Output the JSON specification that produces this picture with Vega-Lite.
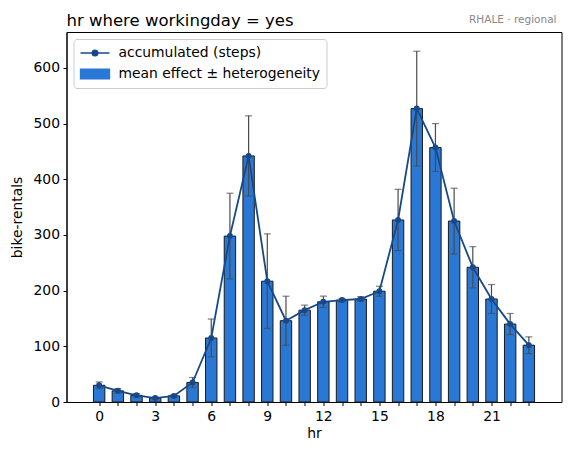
{
  "$schema": "https://vega.github.io/schema/vega-lite/v6.json",
  "width": 495,
  "height": 370,
  "autosize": {"type": "none"},
  "padding": {"left": 66.5, "top": 32, "right": 9.5, "bottom": 53},
  "background": "#ffffff",
  "title": {"text": "hr where workingday = yes", "anchor": "start", "frame": "group", "font": "DejaVu Sans", "fontSize": 16.5, "fontWeight": "normal", "color": "#000000", "baseline": "alphabetic", "offset": 7, "dy": 35},
  "data": {"values": [
    {"hr": 0, "value": 30, "het": 6},
    {"hr": 1, "value": 20, "het": 4},
    {"hr": 2, "value": 12, "het": 3},
    {"hr": 3, "value": 7, "het": 2},
    {"hr": 4, "value": 11, "het": 2},
    {"hr": 5, "value": 35, "het": 9},
    {"hr": 6, "value": 115, "het": 34},
    {"hr": 7, "value": 298, "het": 77},
    {"hr": 8, "value": 442, "het": 72},
    {"hr": 9, "value": 217, "het": 85},
    {"hr": 10, "value": 146, "het": 44},
    {"hr": 11, "value": 165, "het": 9},
    {"hr": 12, "value": 180, "het": 10},
    {"hr": 13, "value": 183, "het": 3},
    {"hr": 14, "value": 185, "het": 4},
    {"hr": 15, "value": 199, "het": 9},
    {"hr": 16, "value": 327, "het": 55},
    {"hr": 17, "value": 527, "het": 103},
    {"hr": 18, "value": 457, "het": 43},
    {"hr": 19, "value": 325, "het": 59},
    {"hr": 20, "value": 242, "het": 37},
    {"hr": 21, "value": 185, "het": 26},
    {"hr": 22, "value": 140, "het": 19},
    {"hr": 23, "value": 102, "het": 15}
  ]},
  "encoding": {
    "x": {"field": "hr", "type": "quantitative", "title": "hr",
          "scale": {"domain": [-1.48, 24.48], "nice": false, "zero": false},
          "axis": {"values": [0,1,2,3,4,5,6,7,8,9,10,11,12,13,14,15,16,17,18,19,20,21,22,23],
                   "labelExpr": "datum.value % 3 === 0 ? datum.label : ''", "labelOverlap": false, "labelFlush": false, "titlePadding": 4}},
    "y": {"field": "value", "type": "quantitative", "title": "bike-rentals",
          "scale": {"domain": [0, 664.6], "nice": false},
          "axis": {"values": [0,100,200,300,400,500,600], "labelOverlap": false, "titlePadding": 8}}
  },
  "layer": [
    {
      "mark": {"type": "bar", "width": 11.4, "stroke": "#1a1a1a", "strokeWidth": 1, "opacity": 1},
      "encoding": {
        "color": {"datum": "mean effect ± heterogeneity", "type": "nominal",
                  "scale": {"domain": ["accumulated (steps)", "mean effect ± heterogeneity"], "range": ["#17498a", "#2a78d6"]},
                  "legend": {"title": null}}
      }
    },
    {
      "mark": {"type": "errorbar", "color": "#4a4a4a", "thickness": 1.2, "ticks": {"size": 7, "color": "#4a4a4a", "thickness": 1.2}},
      "encoding": {
        "yError": {"field": "het"}
      }
    },
    {
      "mark": {"type": "line", "strokeWidth": 1.8},
      "encoding": {
        "color": {"datum": "accumulated (steps)", "type": "nominal", "legend": {"title": null}}
      }
    },
    {
      "mark": {"type": "point", "filled": true, "size": 36, "opacity": 1},
      "encoding": {
        "color": {"datum": "accumulated (steps)", "type": "nominal", "legend": {"title": null}}
      }
    },
    {
      "mark": {"type": "point", "filled": true, "opacity": 0},
      "encoding": {
        "color": {"datum": "accumulated (steps)", "type": "nominal", "legend": {"title": null}},
        "shape": {"datum": "accumulated (steps)", "type": "nominal", "legend": {"title": null},
                  "scale": {"domain": ["accumulated (steps)", "mean effect ± heterogeneity"],
                            "range": ["M-1,0L3.14,0M0.66,0A0.41,0.41,0,1,0,1.48,0A0.41,0.41,0,1,0,0.66,0", "M-1,-0.71L3.14,-0.71L3.14,0.71L-1,0.71Z"]}},
        "stroke": {"datum": "accumulated (steps)", "type": "nominal", "legend": {"title": null},
                   "scale": {"domain": ["accumulated (steps)", "mean effect ± heterogeneity"], "range": ["#17498a", "#1a1a1a"]}}
      }
    },
    {
      "data": {"values": [{"label": "RHALE · regional", "hr": 24.48, "value": 664.6}]},
      "mark": {"type": "text", "align": "right", "baseline": "alphabetic", "dy": -9.5, "fontSize": 10.5, "font": "DejaVu Sans", "color": "#888888"},
      "encoding": {
        "text": {"field": "label"}
      }
    }
  ],
  "config": {
    "view": {"stroke": "#000000", "strokeWidth": 1},
    "axis": {"domainColor": "#000000", "domainWidth": 1, "tickColor": "#000000", "tickWidth": 1, "tickSize": 3.5,
             "labelFont": "DejaVu Sans", "labelFontSize": 13.9, "labelColor": "#000000", "labelPadding": 3.5,
             "titleFont": "DejaVu Sans", "titleFontSize": 13.9, "titleFontWeight": "normal", "titleColor": "#000000",
             "grid": false, "labelOverlap": false},
    "legend": {"orient": "top-left", "offset": 7, "padding": 6,
               "fillColor": "#ffffff", "strokeColor": "#cccccc", "cornerRadius": 3,
               "symbolSize": 196, "labelOffset": 23, "rowPadding": 6, "labelLimit": 400,
               "labelFont": "DejaVu Sans", "labelFontSize": 13.9, "labelColor": "#000000",
               "symbolOpacity": 1, "symbolStrokeWidth": 1.3}
  }
}
